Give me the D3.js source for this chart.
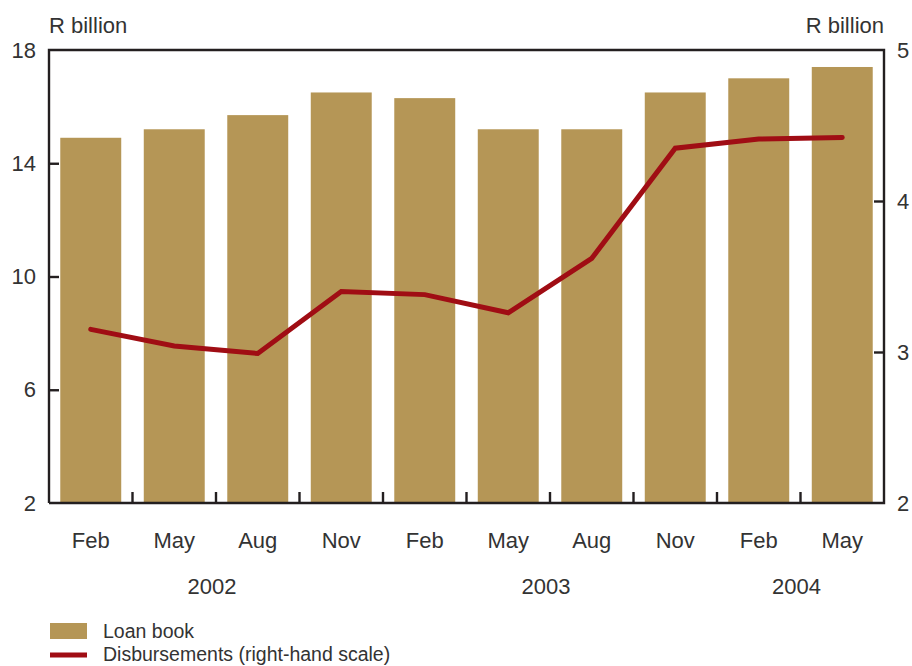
<!DOCTYPE html>
<html>
<head>
<meta charset="utf-8">
<script src="https://cdn.jsdelivr.net/npm/d3@7/dist/d3.min.js"></script>
<style>
  body { margin: 0; background: #fff; }
  svg text { font-family: "Liberation Sans", Arial, Helvetica, sans-serif; fill: #333; }
</style>
</head>
<body>
<svg id="chart" width="912" height="666"></svg>
<script>
// Quarter labels along the x axis
const months = ["Feb", "May", "Aug", "Nov", "Feb", "May", "Aug", "Nov", "Feb", "May"];
// Year grouping: label and the index range of quarters it spans
const years = ["2002", "2003", "2004"];
const yearStart = [0, 4, 8];
const yearEnd = [3, 7, 9];
// Loan book, R billion (left scale)
const loanBook = [14.9, 15.2, 15.7, 16.5, 16.3, 15.2, 15.2, 16.5, 17.0, 17.4];
// Disbursements, R billion (right scale)
const disbursements = [3.15, 3.04, 2.99, 3.40, 3.38, 3.26, 3.62, 4.35, 4.41, 4.42];
// Axis ticks
const leftTicks = [2, 6, 10, 14, 18];
const rightTicks = [2, 3, 4, 5];

const svg = d3.select("#chart");
const m = { left: 49, right: 884, top: 50, bottom: 503 };
const ink = "#231f20";
const barColor = "#b59656";
const lineColor = "#a00d14";
const fs = 22;

const idx = months.map((d, i) => i);
const x = d3.scaleBand().domain(idx).range([m.left, m.right]).paddingInner(0.27).paddingOuter(0.135);
const xb = d3.scaleBand().domain(idx).range([m.left, m.right]);
const yL = d3.scaleLinear().domain([2, 18]).range([m.bottom, m.top]);
const yR = d3.scaleLinear().domain([2, 5]).range([m.bottom, m.top]);

// Bars
svg.append("g").selectAll("rect").data(loanBook).join("rect")
  .attr("x", (d, i) => x(i))
  .attr("width", x.bandwidth())
  .attr("y", d => yL(d))
  .attr("height", d => yL(2) - yL(d))
  .attr("fill", barColor);

// Line
const line = d3.line().x((d, i) => xb(i) + xb.bandwidth() / 2).y(d => yR(d));
svg.append("path").datum(disbursements)
  .attr("d", line)
  .attr("fill", "none")
  .attr("stroke", lineColor)
  .attr("stroke-width", 5)
  .attr("stroke-linecap", "round")
  .attr("stroke-linejoin", "miter");

// Frame: top, left, right, bottom
const frame = svg.append("g").attr("stroke", ink).attr("stroke-width", 2.4).attr("fill", "none");
frame.append("path").attr("d", `M${m.left},${m.bottom}V${m.top}H${m.right}V${m.bottom}H${m.left}`);

// Left axis (ticks pointing inward)
const leftAxis = d3.axisLeft(yL).tickValues(leftTicks).tickFormat(d3.format("d")).tickSize(-10);
const gl = svg.append("g").attr("transform", `translate(${m.left},0)`).call(leftAxis);
gl.select(".domain").remove();
gl.selectAll(".tick line").attr("stroke", ink).attr("stroke-width", 2.4)
  .filter(d => d === 2 || d === 18).remove();
gl.selectAll(".tick text").attr("font-size", fs).attr("fill", "#333").attr("x", -13);

// Right axis (ticks pointing inward)
const rightAxis = d3.axisRight(yR).tickValues(rightTicks).tickFormat(d3.format("d")).tickSize(-10);
const gr = svg.append("g").attr("transform", `translate(${m.right},0)`).call(rightAxis);
gr.select(".domain").remove();
gr.selectAll(".tick line").attr("stroke", ink).attr("stroke-width", 2.4)
  .filter(d => d === 2 || d === 5).remove();
gr.selectAll(".tick text").attr("font-size", fs).attr("fill", "#333").attr("x", 13);

// Category separators on the bottom axis
svg.append("g").selectAll("line").data(idx.slice(1)).join("line")
  .attr("x1", i => xb(i)).attr("x2", i => xb(i))
  .attr("y1", m.bottom).attr("y2", m.bottom - 11)
  .attr("stroke", ink).attr("stroke-width", 2.4);

// Month labels
svg.append("g").selectAll("text").data(months).join("text")
  .attr("x", (d, i) => xb(i) + xb.bandwidth() / 2)
  .attr("y", 548)
  .attr("text-anchor", "middle")
  .attr("font-size", fs)
  .text(d => d);

// Year labels centred under their quarters
svg.append("g").selectAll("text").data(years).join("text")
  .attr("x", (d, i) => (xb(yearStart[i]) + xb(yearEnd[i]) + xb.bandwidth()) / 2 - 4)
  .attr("y", 594)
  .attr("text-anchor", "middle")
  .attr("font-size", fs)
  .text(d => d);

// Units
svg.append("text").attr("x", 49).attr("y", 33).attr("font-size", fs).text("R billion");
svg.append("text").attr("x", 884).attr("y", 33).attr("text-anchor", "end").attr("font-size", fs).text("R billion");

// Legend
svg.append("rect").attr("x", 50).attr("y", 623).attr("width", 37).attr("height", 16).attr("fill", barColor);
svg.append("text").attr("x", 103).attr("y", 638).attr("font-size", 19.5).text("Loan book");
svg.append("line").attr("x1", 50).attr("x2", 87).attr("y1", 655).attr("y2", 655)
  .attr("stroke", lineColor).attr("stroke-width", 5);
svg.append("text").attr("x", 103).attr("y", 661).attr("font-size", 19.5).text("Disbursements (right-hand scale)");
</script>
</body>
</html>
